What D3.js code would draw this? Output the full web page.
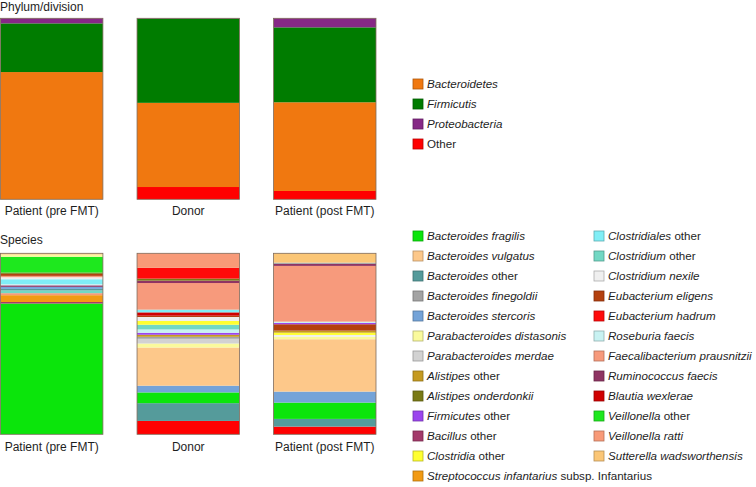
<!DOCTYPE html>
<html><head><meta charset="utf-8">
<script src="https://cdn.jsdelivr.net/npm/d3@7"></script>
<style>
html,body{margin:0;padding:0;background:#fff;}
svg text{font-family:"Liberation Sans",Arial,sans-serif;fill:#1e1e1e;}
</style></head>
<body>
<svg id="chart" width="756" height="487"></svg>
<script>
// ---------- DATA ----------
const samples = ["Patient (pre FMT)", "Donor", "Patient (post FMT)"];

// Phylum/division (percent), order: pre, donor, post
const phyla = ["Bacteroidetes", "Firmicutis", "Proteobacteria", "Other"];
const phylumColors = ["#f07810", "#007c00", "#862886", "#ff0000"];
const bacteroidetes = [70.3, 46.6, 49.0];
const firmicutis = [26.9, 46.6, 41.4];
const proteobacteria = [2.8, 0.2, 5.0];
const otherPhylum = [0, 6.8, 4.6];

// Species legend
const speciesNames = [
  "Bacteroides fragilis", "Bacteroides vulgatus", "Bacteroides other", "Bacteroides finegoldii",
  "Bacteroides stercoris", "Parabacteroides distasonis", "Parabacteroides merdae", "Alistipes other",
  "Alistipes onderdonkii", "Firmicutes other", "Bacillus other", "Clostridia other",
  "Streptococcus infantarius subsp. Infantarius",
  "Clostridiales other", "Clostridium other", "Clostridium nexile", "Eubacterium eligens",
  "Eubacterium hadrum", "Roseburia faecis", "Faecalibacterium prausnitzii", "Ruminococcus faecis",
  "Blautia wexlerae", "Veillonella other", "Veillonella ratti", "Sutterella wadsworthensis"
];
const speciesColors = [
  "#0be50b", "#fdc88a", "#559b9b", "#a3a3a3",
  "#74a3d8", "#fafa9c", "#d2d2d2", "#c59a20",
  "#7a7a14", "#9b45ee", "#a33a6a", "#ffff30",
  "#f29a12",
  "#80eef6", "#72d8c4", "#efefef", "#b4400e",
  "#ff0a0a", "#c8f2f2", "#f79a7c", "#8f3463",
  "#d00000", "#1ee81e", "#f89a78", "#fbc676"
];

// Species abundance per sample, listed bottom -> top
const preSpecies = [
  ["Bacteroides fragilis", 128.6], ["Bacillus other", 1.5],
  ["Streptococcus infantarius subsp. Infantarius", 6.7], ["Veillonella ratti", 2.0],
  ["Clostridium other", 2.7], ["Bacteroides other", 1.5], ["Bacteroides stercoris", 2.0],
  ["Ruminococcus faecis", 1.5], ["Roseburia faecis", 1.3], ["Clostridiales other", 4.7],
  ["Clostridium nexile", 2.0], ["Faecalibacterium prausnitzii", 1.3], ["Eubacterium eligens", 2.0],
  ["Alistipes onderdonkii", 1.3], ["Veillonella other", 15.5], ["Parabacteroides distasonis", 2.2],
  ["Sutterella wadsworthensis", 1.2]
];
const donorSpecies = [
  ["Other", 13.3], ["Bacteroides other", 17.7], ["Bacteroides fragilis", 10.7],
  ["Bacteroides stercoris", 6.7], ["Bacteroides vulgatus", 38.0], ["Parabacteroides distasonis", 4.0],
  ["Parabacteroides merdae", 4.7], ["Bacteroides finegoldii", 2.0], ["Alistipes other", 2.0],
  ["Firmicutes other", 2.0], ["Roseburia faecis", 3.3], ["Clostridium other", 4.7],
  ["Clostridia other", 3.7], ["Clostridium nexile", 4.0], ["Eubacterium eligens", 1.3],
  ["Blautia wexlerae", 3.3], ["Clostridiales other", 2.7], ["Faecalibacterium prausnitzii", 26.5],
  ["Ruminococcus faecis", 2.4], ["Alistipes onderdonkii", 2.0], ["Eubacterium hadrum", 10.7],
  ["Veillonella ratti", 14.5]
];
const postSpecies = [
  ["Other", 7.7], ["Bacteroides other", 7.7], ["Bacteroides fragilis", 16.3],
  ["Bacteroides stercoris", 11.0], ["Bacteroides vulgatus", 52.3], ["Parabacteroides distasonis", 2.6],
  ["Clostridium nexile", 1.7], ["Clostridia other", 2.3], ["Alistipes other", 2.0],
  ["Eubacterium eligens", 6.4], ["Firmicutes other", 1.3], ["Roseburia faecis", 1.3],
  ["Faecalibacterium prausnitzii", 55.7], ["Ruminococcus faecis", 2.0],
  ["Bacteroides finegoldii", 1.3], ["Sutterella wadsworthensis", 9.3]
];

// ---------- DRAW ----------
const svg = d3.select("#chart");
const outline = "#7f6c5c";
const legendFont = 11.6;

const x = d3.scaleBand().domain(samples).range([0.5, 376]).paddingInner(0.25).paddingOuter(0);

// Titles
svg.append("text").attr("x", 0).attr("y", 11).attr("font-size", 12).text("Phylum/division");
svg.append("text").attr("x", 0).attr("y", 244).attr("font-size", 12).text("Species");

// Phylum bars
const phylumRows = samples.map((s, i) => ({
  sample: s, Bacteroidetes: bacteroidetes[i], Firmicutis: firmicutis[i],
  Proteobacteria: proteobacteria[i], Other: otherPhylum[i]
}));
const phylumColor = d3.scaleOrdinal().domain(phyla).range(phylumColors);
const stackP = d3.stack().keys(["Other", "Bacteroidetes", "Firmicutis", "Proteobacteria"])
  .offset(d3.stackOffsetExpand);
const yP = d3.scaleLinear().domain([0, 1]).range([199.3, 18.3]);
const gP = svg.append("g");
stackP(phylumRows).forEach(layer => {
  gP.selectAll(null).data(layer).join("rect")
    .attr("x", d => x(d.data.sample))
    .attr("width", x.bandwidth())
    .attr("y", d => yP(d[1]))
    .attr("height", d => Math.max(0, yP(d[0]) - yP(d[1])))
    .attr("fill", phylumColor(layer.key));
});
gP.selectAll(".outline").data(samples).join("rect")
  .attr("x", d => x(d)).attr("width", x.bandwidth())
  .attr("y", yP(1)).attr("height", yP(0) - yP(1))
  .attr("fill", "none").attr("stroke", outline).attr("stroke-width", 0.8);
gP.selectAll(".lbl").data(samples).join("text")
  .attr("x", d => x(d) + x.bandwidth() / 2).attr("y", 215)
  .attr("text-anchor", "middle").attr("font-size", 12).text(d => d);

// Species bars
const speciesColor = d3.scaleOrdinal().domain([...speciesNames, "Other"]).range([...speciesColors, "#ff0000"]);
const yS = d3.scaleLinear().domain([0, 1]).range([434.3, 253.3]);
const gS = svg.append("g");
[preSpecies, donorSpecies, postSpecies].forEach((segs, i) => {
  const total = d3.sum(segs, d => d[1]);
  const cum = d3.cumsum(segs, d => d[1]);
  const rows = segs.map((d, j) => ({ name: d[0], y0: (cum[j] - d[1]) / total, y1: cum[j] / total }));
  gS.selectAll(null).data(rows).join("rect")
    .attr("x", x(samples[i]))
    .attr("width", x.bandwidth())
    .attr("y", d => yS(d.y1))
    .attr("height", d => yS(d.y0) - yS(d.y1))
    .attr("fill", d => speciesColor(d.name));
});
gS.selectAll(".outline").data(samples).join("rect")
  .attr("x", d => x(d)).attr("width", x.bandwidth())
  .attr("y", yS(1)).attr("height", yS(0) - yS(1))
  .attr("fill", "none").attr("stroke", outline).attr("stroke-width", 0.8);
gS.selectAll(".lbl").data(samples).join("text")
  .attr("x", d => x(d) + x.bandwidth() / 2).attr("y", 451)
  .attr("text-anchor", "middle").attr("font-size", 12).text(d => d);

// Label formatter: italic scientific parts, upright "other"/"subsp." parts
function labelParts(name) {
  if (name === "Other") return [[name, false]];
  if (name.startsWith("Streptococcus")) return [["Streptococcus infantarius", true], [" subsp. Infantarius", false]];
  if (name.endsWith(" other")) return [[name.slice(0, -6), true], [" other", false]];
  return [[name, true]];
}
function drawLegendItem(g, name, color, sx, tx, cy) {
  g.append("rect").attr("x", sx).attr("y", cy - 5).attr("width", 10).attr("height", 10)
    .attr("fill", color).attr("stroke", d3.color(color).darker(0.9)).attr("stroke-width", 0.8);
  const t = g.append("text").attr("x", tx).attr("y", cy + 4.2).attr("font-size", legendFont);
  labelParts(name).forEach(([s, it]) => {
    t.append("tspan").attr("font-style", it ? "italic" : "normal").text(s);
  });
}

// Phylum legend
const yLegP = d3.scalePoint().domain(phyla).range([84, 144]);
const gLP = svg.append("g");
phyla.forEach(p => drawLegendItem(gLP, p, phylumColor(p), 413, 427, yLegP(p)));

// Species legend (two columns)
const col1 = speciesNames.slice(0, 13), col2 = speciesNames.slice(13);
const yLegS = d3.scaleLinear().domain([0, 12]).range([236, 476]);
const gLS = svg.append("g");
col1.forEach((n, i) => drawLegendItem(gLS, n, speciesColor(n), 413, 427, yLegS(i)));
col2.forEach((n, i) => drawLegendItem(gLS, n, speciesColor(n), 594, 608, yLegS(i)));
</script>
</body></html>
